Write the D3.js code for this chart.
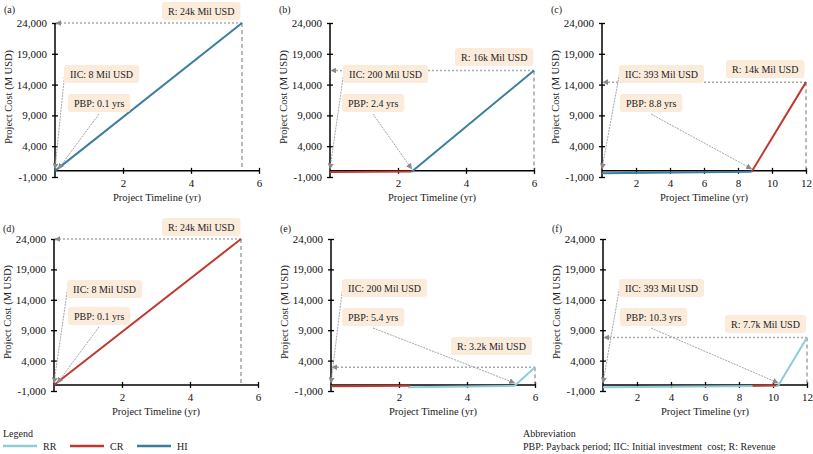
<!DOCTYPE html>
<html><head><meta charset="utf-8">
<script src="https://cdn.jsdelivr.net/npm/d3@7"></script>
<style>body{margin:0;background:#fff;} svg{display:block;font-family:"Liberation Serif","Tinos","DejaVu Serif",serif;}</style>
</head><body><svg id="chart" width="813" height="454"></svg>
<script>
// ---- data ----
const panelLabels = ["(a)","(b)","(c)","(d)","(e)","(f)"];
const xMax = [6,6,12,6,6,12];
const xTickValues = [[2,4,6],[2,4,6],[2,4,6,8,10,12],[2,4,6],[2,4,6],[2,4,6,8,10,12]];
const yTickValues = [-1000,4000,9000,14000,19000,24000];
const iicLabels = ["8","200","393","8","200","393"];
const pbpValues = [0.1,2.4,8.8,0.1,5.4,10.3];
const revenueEndYear = [5.5,6,12,5.5,6,12];
const revenueValues = [24000,16300,14400,24000,2900,7800];
const revenueLabels = ["24k","16k","14k","24k","3.2k","7.7k"];
const seriesNames = ["RR","CR","HI"];
const rrData = [[],[],[],[],[[2.3,-150],[2.3,-400],[5.4,-150],[6,2900]],[[0,-400],[10.3,-150],[12,7800]]];
const crData = [[],[[0,-200],[2.4,-100]],[[8.8,-150],[12,14400]],[[0,-8],[5.5,24000]],[[0,-200],[2.3,-120]],[[8.8,-150],[10.2,-60]]];
const hiData = [[[0,-8],[5.5,24000]],[[2.4,-150],[6,16300]],[[0,-400],[8.8,-150]],[],[],[]];
const abbreviationText = "PBP: Payback period; IIC: Initial investment  cost; R: Revenue";

// ---- layout / style ----
const layout = {
  left:[55,330,602,54,331,603], top:[23,23,23,239,239,239], w:204, h:[154,154,154,152,152,152],
  rBox:[[107,-21],[125,25],[124,37],[108,-21],[120,98],[122,76]],
  iicBox:[[9,42],[13,42],[17,42],[13,41],[11,40],[16,40]],
  pbpBox:[[13,71],[12,71],[18,71],[14,68],[11,69],[17,69]]
};
const colors = {RR:"#8fcdd4", CR:"#c0392f", HI:"#3b7f9c"};
const FONT = "Liberation Serif, Tinos, DejaVu Serif, serif";
const fmt = d => d3.format(",")(d).replace("\u2212","-");

const svg = d3.select("#chart");
const defs = svg.append("defs");
defs.append("marker").attr("id","arr").attr("viewBox","0 0 10 10").attr("refX",9).attr("refY",5)
  .attr("markerWidth",6).attr("markerHeight",6).attr("markerUnits","userSpaceOnUse").attr("orient","auto")
  .append("path").attr("d","M0,0L10,5L0,10z").attr("fill","#8a8a8a");

function labelBox(g, bx, by, text){
  const grp = g.append("g");
  const t = grp.append("text").attr("x",bx+6).attr("y",by+13).style("font-size","10px")
    .style("font-family",FONT).attr("fill","#222").text(text);
  const w = t.node().getComputedTextLength()+12;
  grp.insert("rect","text").attr("x",bx).attr("y",by).attr("width",w).attr("height",18)
    .attr("rx",3).attr("fill","#fbebdb");
}

panelLabels.forEach((lab,i)=>{
  const L=layout.left[i], T=layout.top[i], h=layout.h[i];
  const x = d3.scaleLinear().domain([0,xMax[i]]).range([L,L+layout.w]);
  const y = d3.scaleLinear().domain([-1000,24000]).range([T+h,T]);
  const g = svg.append("g");

  // y axis
  const ya = g.append("g").attr("transform",`translate(${x(0)},0)`)
    .call(d3.axisLeft(y).tickValues(yTickValues).tickSize(3).tickPadding(5).tickFormat(fmt));
  ya.attr("font-family",null).attr("font-size",null).style("font-family",FONT).style("font-size","11px");
  ya.select(".domain").attr("stroke","#000").attr("stroke-width",1.5).attr("d",`M0,${y(-1000)}V${y(24000)}`);
  ya.selectAll(".tick line").attr("x1",-3).attr("x2",3).attr("stroke-width",1.3);
  ya.selectAll(".tick text").attr("fill","#111");

  // x axis at zero
  const xa = g.append("g").attr("transform",`translate(0,${y(0)})`)
    .call(d3.axisBottom(x).tickValues(xTickValues[i]).tickSize(3).tickFormat(""));
  xa.select(".domain").attr("d",`M${x(0)},0H${x(xMax[i])}`).attr("stroke-width",1.5);
  xa.selectAll(".tick line").attr("y1",-3).attr("y2",3).attr("stroke-width",1.3);
  // x tick labels below the plot
  const xl = g.append("g").attr("transform",`translate(0,${y(-1000)})`)
    .call(d3.axisBottom(x).tickValues(xTickValues[i]).tickSize(0).tickPadding(2).tickFormat(d3.format("d")));
  xl.attr("font-family",null).attr("font-size",null).style("font-family",FONT).style("font-size","11px");
  xl.select(".domain").remove();
  xl.selectAll(".tick text").attr("fill","#111");

  // titles
  g.append("text").attr("x",(x(0)+x(xMax[i]))/2).attr("y",y(-1000)+24).attr("text-anchor","middle")
    .style("font-family",FONT).style("font-size","10.5px").attr("fill","#222").text("Project Timeline (yr)");
  g.append("text").attr("transform",`translate(${x(0)-43},${(T+T+h)/2-3}) rotate(-90)`).attr("text-anchor","middle")
    .style("font-family",FONT).style("font-size","10.5px").attr("fill","#222").text("Project Cost (M USD)");
  g.append("text").attr("x",x(0)-51).attr("y",i<3?13:232).style("font-family",FONT).style("font-size","10px")
    .attr("fill","#222").text(lab);

  // revenue guide lines
  const ex = x(revenueEndYear[i]), ey = y(revenueValues[i]);
  g.append("line").attr("x1",ex).attr("x2",ex).attr("y1",ey).attr("y2",y(0)-1)
    .attr("stroke","#8c8c8c").attr("stroke-width",1.2).attr("stroke-dasharray","4,3");
  g.append("line").attr("x1",ex).attr("x2",x(0)+1).attr("y1",ey).attr("y2",ey)
    .attr("stroke","#aaa").attr("stroke-width",1.5).attr("stroke-dasharray","2,2").attr("marker-end","url(#arr)");

  // series
  const line = d3.line().x(d=>x(d[0])).y(d=>y(d[1]));
  [[rrData,"RR"],[crData,"CR"],[hiData,"HI"]].forEach(([arr,name])=>{
    if(arr[i].length) g.append("path").attr("d",line(arr[i])).attr("fill","none")
      .attr("stroke",colors[name]).attr("stroke-width",2);
  });

  // annotation arrows
  const ib = layout.iicBox[i], pb = layout.pbpBox[i], rb = layout.rBox[i];
  g.append("line").attr("x1",L+ib[0]+1).attr("y1",T+ib[1]+6).attr("x2",x(0)).attr("y2",y(0)-2)
    .attr("stroke","#a5a5a5").attr("stroke-width",1).attr("stroke-dasharray","2,1").attr("marker-end","url(#arr)");
  g.append("line").attr("x1",L+pb[0]+31).attr("y1",T+pb[1]+20).attr("x2",x(pbpValues[i])).attr("y2",y(0)-2)
    .attr("stroke","#a5a5a5").attr("stroke-width",1).attr("stroke-dasharray","2,1").attr("marker-end","url(#arr)");

  // annotation boxes
  labelBox(g, L+rb[0], T+rb[1], `R: ${revenueLabels[i]} Mil USD`);
  labelBox(g, L+ib[0], T+ib[1], `IIC: ${iicLabels[i]} Mil USD`);
  labelBox(g, L+pb[0], T+pb[1], `PBP: ${pbpValues[i]} yrs`);
});

// legend
const lg = svg.append("g").style("font-family",FONT).style("font-size","10px").attr("fill","#222");
lg.append("text").attr("x",3).attr("y",437).text("Legend");
const legX = d3.scalePoint().domain(seriesNames).range([3,137]);
seriesNames.forEach(n=>{
  lg.append("line").attr("x1",legX(n)).attr("x2",legX(n)+34).attr("y1",446).attr("y2",446)
    .attr("stroke",colors[n]).attr("stroke-width",2.5);
  lg.append("text").attr("x",legX(n)+40).attr("y",450).text(n);
});
lg.append("text").attr("x",523).attr("y",437).text("Abbreviation");
lg.append("text").attr("x",523).attr("y",450).style("white-space","pre").text(abbreviationText);
</script>
</body></html>
